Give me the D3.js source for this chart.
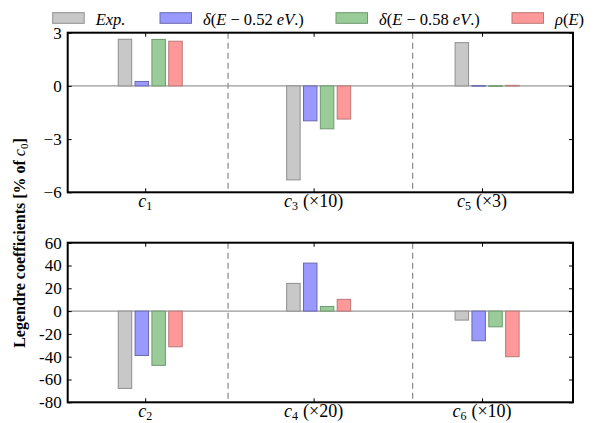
<!DOCTYPE html>
<html><head><meta charset="utf-8">
<script src="https://cdn.jsdelivr.net/npm/d3@7/dist/d3.min.js"></script>
<style>body{margin:0;background:#fff}svg{display:block}text{font-family:"Liberation Serif","DejaVu Serif",serif;}</style>
</head><body>
<svg id="c" width="601" height="423"></svg>
<script>
const seriesNames = ["Exp.", "δ(E − 0.52 eV.)", "δ(E − 0.58 eV.)", "ρ(E)"];
const topCats = [["1",""],["3","(×10)"],["5","(×3)"]];
const botCats = [["2",""],["4","(×20)"],["6","(×10)"]];
const expTop  = [2.63, -5.30, 2.44];
const d052Top = [0.25, -1.97, 0.02];
const d058Top = [2.62, -2.42, 0.01];
const rhoTop  = [2.52, -1.87, 0.03];
const expBot  = [-67.8, 24.3, -7.9];
const d052Bot = [-38.9, 42.1, -26.0];
const d058Bot = [-47.6, 4.1, -13.8];
const rhoBot  = [-31.3, 10.3, -40.0];
const topTicks = [3, 0, -3, -6];
const botTicks = [60, 40, 20, 0, -20, -40, -60, -80];
const groupStarts = [0, 2.5, 5];
const separators = [1.63, 4.37];

const fills = ["#c8c8c8", "#9999ff", "#99cc99", "#ff9999"];
const strokes = ["#8f8f8f", "#6a6ab0", "#6f9a6f", "#b87878"];

const svg = d3.select("#c");
const x = d3.scaleLinear().domain([-0.75, 6.75]).range([67.7, 573]);

function panel(yRange, yDomain, ticks, fmt, series, cats) {
  const y = d3.scaleLinear().domain(yDomain).range(yRange);
  const g = svg.append("g");
  const [x0, x1] = x.range();
  const yb = y.range()[0], yt = y.range()[1];
  separators.forEach(s => {
    g.append("line").attr("x1", x(s)).attr("x2", x(s)).attr("y1", yt).attr("y2", yb)
      .attr("stroke", "#888").attr("stroke-width", 1.2).attr("stroke-dasharray", "6,4");
  });
  g.append("line").attr("x1", x0).attr("x2", x1).attr("y1", y(0)).attr("y2", y(0))
    .attr("stroke", "#999").attr("stroke-width", 1.2);
  series.forEach((vals, k) => {
    g.selectAll(null).data(vals).enter().append("rect")
      .attr("x", (d, i) => x(groupStarts[i] + k * 0.25))
      .attr("width", x(0.2) - x(0))
      .attr("y", d => y(Math.max(0, d)))
      .attr("height", d => Math.max(0.6, Math.abs(y(d) - y(0))))
      .attr("fill", fills[k]).attr("stroke", strokes[k]).attr("stroke-width", 1);
  });
  const axL = d3.axisLeft(y).tickValues(ticks).tickSize(-4).tickPadding(6).tickFormat(fmt);
  const gl = g.append("g").attr("transform", `translate(${x0},0)`).call(axL);
  gl.attr("font-family", null);
  gl.select(".domain").remove();
  gl.selectAll("text").attr("font-size", 17).attr("fill", "#000");
  gl.selectAll("line").attr("stroke", "#000");
  const axR = d3.axisRight(y).tickValues(ticks).tickSize(-4).tickFormat("");
  const gr = g.append("g").attr("transform", `translate(${x1},0)`).call(axR);
  gr.select(".domain").remove();
  gr.selectAll("line").attr("stroke", "#000");
  const tickX = groupStarts.map(s => s + 0.4);
  const axB = d3.axisBottom(x).tickValues(tickX).tickSize(-4).tickFormat("");
  const gb = g.append("g").attr("transform", `translate(0,${yb})`).call(axB);
  gb.select(".domain").remove(); gb.selectAll("line").attr("stroke", "#000");
  const axT = d3.axisTop(x).tickValues(tickX).tickSize(-4).tickFormat("");
  const gt = g.append("g").attr("transform", `translate(0,${yt})`).call(axT);
  gt.select(".domain").remove(); gt.selectAll("line").attr("stroke", "#000");
  cats.forEach((c, i) => {
    const t = g.append("text").attr("x", x(tickX[i])).attr("y", yb + 14.5)
      .attr("text-anchor", "middle").attr("font-size", 18);
    t.append("tspan").attr("font-style", "italic").text("c");
    t.append("tspan").attr("font-size", 12).attr("dy", 3).text(c[0]);
    if (c[1]) t.append("tspan").attr("dy", -3).attr("dx", 5).text(c[1]);
  });
  g.append("rect").attr("x", x0).attr("y", yt).attr("width", x1 - x0).attr("height", yb - yt)
    .attr("fill", "none").attr("stroke", "#000").attr("stroke-width", 2);
}

panel([192.3, 32.7], [-6, 3], topTicks, d => d < 0 ? "−" + Math.abs(d) : String(d),
      [expTop, d052Top, d058Top, rhoTop], topCats);
panel([402.3, 242.7], [-80, 60], botTicks, d => String(d),
      [expBot, d052Bot, d058Bot, rhoBot], botCats);

const legX = [52.7, 160, 336, 512];
const lg = svg.append("g");
seriesNames.forEach((n, k) => {
  lg.append("rect").attr("x", legX[k]).attr("y", 12.7).attr("width", 31.5).attr("height", 10.6)
    .attr("fill", fills[k]).attr("stroke", strokes[k]).attr("stroke-width", 1);
  const t = lg.append("text").attr("x", legX[k] + 43).attr("y", 24.5).attr("font-size", 16.5);
  if (k === 0) {
    t.append("tspan").attr("font-style", "italic").text("Exp.");
  } else if (k === 3) {
    t.append("tspan").attr("font-style", "italic").text("ρ");
    t.append("tspan").text("(");
    t.append("tspan").attr("font-style", "italic").text("E");
    t.append("tspan").text(")");
  } else {
    const num = k === 1 ? "0.52" : "0.58";
    t.append("tspan").attr("font-style", "italic").text("δ");
    t.append("tspan").text("(");
    t.append("tspan").attr("font-style", "italic").text("E");
    t.append("tspan").text(" − " + num + " ");
    t.append("tspan").attr("font-style", "italic").text("eV");
    t.append("tspan").text(".)");
  }
});

const yl = svg.append("text").attr("transform", "translate(25,243) rotate(-90)")
  .attr("text-anchor", "middle").attr("font-size", 16).attr("font-weight", "bold");
yl.append("tspan").text("Legendre coefficients [% of ");
yl.append("tspan").attr("font-weight", "normal").attr("font-style", "italic").text("c");
yl.append("tspan").attr("font-weight", "normal").attr("font-size", 11).attr("dy", 3).text("0");
yl.append("tspan").attr("dy", -3).text("]");
</script>
</body></html>
